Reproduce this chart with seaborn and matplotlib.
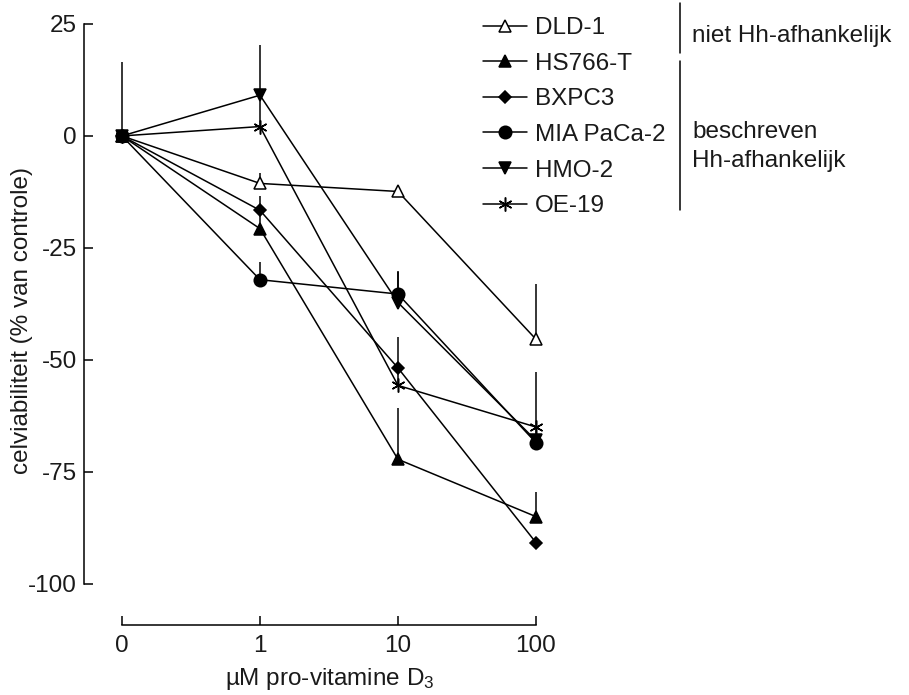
import matplotlib
matplotlib.use("Agg")
import matplotlib.pyplot as plt
import seaborn as sns
from matplotlib.lines import Line2D

# ── data ─────────────────────────────────────────────────────────────────────
conc_labels = ["0", "1", "10", "100"]
x_pos = list(range(len(conc_labels)))

cell_lines = ["DLD-1", "HS766-T", "BXPC3", "MIA PaCa-2", "HMO-2", "OE-19"]

dld1    = [0, -10.6, -12.4, -45.4]
hs766t  = [0, -20.7, -72.2, -85.0]
bxpc3   = [0, -16.6, -51.8, -90.8]
miapaca = [0, -32.1, -35.3, -68.5]
hmo2    = [0,   9.1, -37.2, -68.0]
oe19    = [0,   2.1, -55.7, -65.0]

# upper error (one-sided, 0 = no bar visible)
dld1_err    = [16.5, 2.4, 0.0, 12.3]
hs766t_err  = [0.0, 4.1, 11.5, 5.6]
bxpc3_err   = [0.0, 3.2, 7.0, 0.0]
miapaca_err = [0.0, 4.0, 5.1, 3.5]
hmo2_err    = [0.0, 11.1, 6.8, 0.0]
oe19_err    = [0.0, 7.0, 3.9, 12.3]

y_ticks = [25, 0, -25, -50, -75, -100]

values = [dld1, hs766t, bxpc3, miapaca, hmo2, oe19]
errors = [dld1_err, hs766t_err, bxpc3_err, miapaca_err, hmo2_err, oe19_err]
styles = [
    dict(marker="^", markersize=9, markerfacecolor="white", zorder=3),
    dict(marker="^", markersize=9, markerfacecolor="black", zorder=3),
    dict(marker="D", markersize=6, markerfacecolor="black", zorder=3),
    dict(marker="o", markersize=9, markerfacecolor="black", zorder=5),
    dict(marker="v", markersize=9, markerfacecolor="black", zorder=3),
    dict(marker=(6, 2, 0), markersize=10, markerfacecolor="black", zorder=3),
]

# ── style ────────────────────────────────────────────────────────────────────
sns.set_style("white")
plt.rcParams["font.family"] = ["Liberation Sans", "DejaVu Sans"]
plt.rcParams["mathtext.default"] = "regular"
FS = 17.5
TXT = "#1a1a1a"

fig = plt.figure(figsize=(9.09, 6.95), dpi=100)
ax = fig.add_axes([0.0924, 0.1007, 0.520, 0.8777])

for name, vals, errs, st in zip(cell_lines, values, errors, styles):
    sns.lineplot(x=x_pos, y=vals, ax=ax, color="black", linewidth=1.1,
                 markeredgecolor="black", markeredgewidth=1.1,
                 label=name, clip_on=False, **st)
    xs = [x for x, e in zip(x_pos, errs) if e > 0]
    lo = [v for v, e in zip(vals, errs) if e > 0]
    hi = [v + e for v, e in zip(vals, errs) if e > 0]
    ax.vlines(xs, lo, hi, color="black", linewidth=1.1, zorder=2)

# ── axes ─────────────────────────────────────────────────────────────────────
ax.set_xlim(-0.275, 3.15)
ax.set_ylim(-109.2, 27)
sns.despine(ax=ax)
ax.spines["left"].set_bounds(-100, 25)
ax.spines["bottom"].set_bounds(0, 3)
for s in ("left", "bottom"):
    ax.spines[s].set_linewidth(1.1)
    ax.spines[s].set_color("black")

ax.set_xticks(x_pos)
ax.set_xticklabels(conc_labels)
ax.set_yticks(y_ticks)
ax.set_yticklabels([str(v) for v in y_ticks])
ax.tick_params(axis="both", which="major", bottom=True, left=True,
               direction="in", length=6.5, width=1.1,
               color="black", labelsize=FS, labelcolor=TXT)
ax.tick_params(axis="y", pad=5)
ax.tick_params(axis="x", pad=7)

ax.set_ylabel("celviabiliteit (% van controle)", fontsize=FS, color=TXT)
ax.yaxis.set_label_coords(-0.108, 0.5)
ax.set_xlabel("µM pro-vitamine D$_3$", fontsize=FS, color=TXT)
ax.xaxis.set_label_coords(0.52, -0.068)

# ── legend + group brackets ──────────────────────────────────────────────────
ax.legend(loc="upper left", bbox_to_anchor=(483 / 909, 1 - 17 / 695),
          bbox_transform=fig.transFigure, frameon=False, fontsize=FS,
          handlelength=1.81, handletextpad=0.33, labelspacing=0.56,
          borderpad=0, borderaxespad=0, labelcolor=TXT)

fig.add_artist(Line2D([680 / 909, 680 / 909], [1 - 3 / 695, 1 - 53 / 695],
                      transform=fig.transFigure, color="black", linewidth=1.1))
fig.add_artist(Line2D([680 / 909, 680 / 909], [1 - 61 / 695, 1 - 210 / 695],
                      transform=fig.transFigure, color="black", linewidth=1.1))
fig.text(692 / 909, 1 - 42 / 695, "niet Hh-afhankelijk", fontsize=FS,
         va="baseline", color=TXT)
fig.text(692 / 909, 1 - 138 / 695, "beschreven", fontsize=FS,
         va="baseline", color=TXT)
fig.text(692 / 909, 1 - 167 / 695, "Hh-afhankelijk", fontsize=FS,
         va="baseline", color=TXT)

fig.savefig("out.png", dpi=100)
plt.close(fig)
